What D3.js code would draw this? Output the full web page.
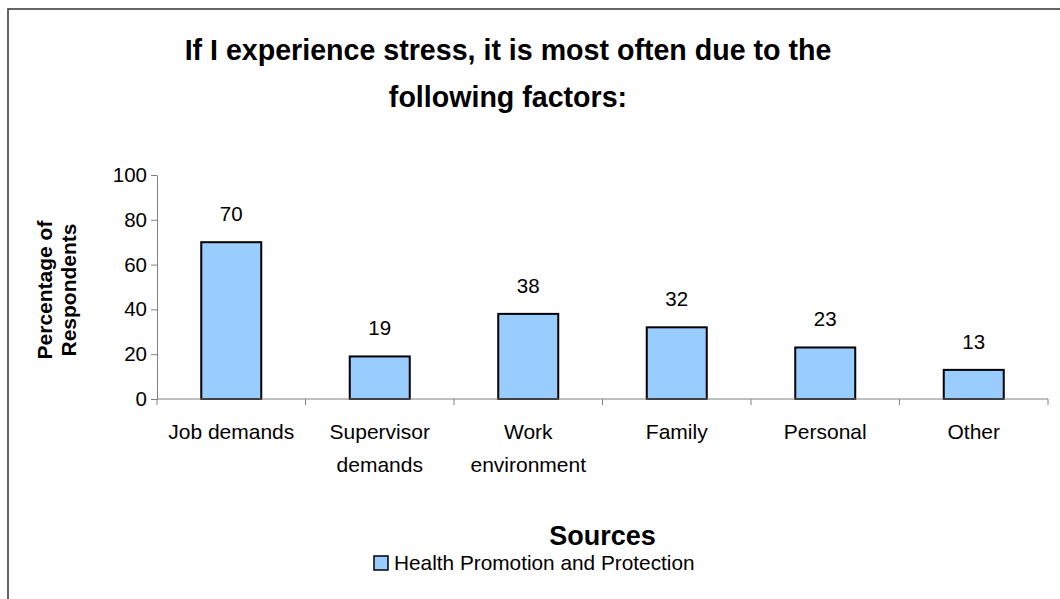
<!DOCTYPE html>
<html>
<head>
<meta charset="utf-8">
<script src="https://cdn.jsdelivr.net/npm/d3@7"></script>
<style>
  html, body { margin: 0; padding: 0; background: #fff; }
  svg { display: block; }
  text { font-family: "Liberation Sans", Arial, sans-serif; fill: #000; }
</style>
</head>
<body>
<svg id="chart" width="1060" height="599"></svg>
<script>
const categories = [["Job demands"], ["Supervisor", "demands"], ["Work", "environment"], ["Family"], ["Personal"], ["Other"]];
const values = [70, 19, 38, 32, 23, 13];
const yTicks = [0, 20, 40, 60, 80, 100];
const titleLines = ["If I experience stress, it is most often due to the", "following factors:"];
const yTitleLines = ["Percentage of", "Respondents"];
const xTitle = "Sources";
const seriesName = "Health Promotion and Protection";

const svg = d3.select("#chart");

// outer frame (extends beyond right/bottom edges)
svg.append("rect")
  .attr("x", 8).attr("y", 9).attr("width", 1100).attr("height", 700)
  .attr("fill", "none").attr("stroke", "#333").attr("stroke-width", 1.5);

const plot = { left: 157, right: 1048, top: 175, bottom: 399 };

const x = d3.scaleBand()
  .domain(categories.map((d, i) => i))
  .range([plot.left, plot.right])
  .paddingInner(0.596).paddingOuter(0.298);

const y = d3.scaleLinear().domain([0, 100]).range([plot.bottom, plot.top]);

// title
svg.append("text")
  .attr("x", 508).attr("y", 60)
  .attr("text-anchor", "middle")
  .style("font-size", "28.6px").style("font-weight", "bold")
  .selectAll("tspan").data(titleLines).join("tspan")
  .attr("x", 508).attr("dy", (d, i) => i === 0 ? 0 : 47)
  .text(d => d);

// y axis
const yAxis = d3.axisLeft(y).tickValues(yTicks).tickSize(6).tickSizeOuter(0).tickPadding(4);
const gy = svg.append("g").attr("transform", `translate(${plot.left},0)`).call(yAxis);
gy.select(".domain").attr("stroke", "#808080");
gy.selectAll(".tick line").attr("stroke", "#808080");
gy.selectAll(".tick text").style("font-size", "20.5px").style("font-family", "Liberation Sans, Arial, sans-serif").attr("fill", "#000");

// bars
svg.append("g").selectAll("rect").data(values).join("rect")
  .attr("x", (d, i) => x(i))
  .attr("y", d => y(d))
  .attr("width", x.bandwidth())
  .attr("height", d => y(0) - y(d))
  .attr("fill", "#99ccff")
  .attr("stroke", "#000").attr("stroke-width", 2);

// x axis
const xEdges = d3.range(categories.length + 1).map(i => plot.left + i * x.step());
const gx = svg.append("g");
gx.append("line")
  .attr("x1", plot.left).attr("x2", plot.right)
  .attr("y1", y(0)).attr("y2", y(0))
  .attr("stroke", "#808080").attr("stroke-width", 1);
gx.selectAll("line.tk").data(xEdges).join("line").attr("class", "tk")
  .attr("x1", d => d).attr("x2", d => d)
  .attr("y1", y(0)).attr("y2", y(0) + 6)
  .attr("stroke", "#808080");

// category labels
svg.append("g").selectAll("text").data(categories).join("text")
  .attr("text-anchor", "middle")
  .style("font-size", "21px")
  .each(function(d, i) {
    const cx = x(i) + x.bandwidth() / 2;
    d3.select(this).selectAll("tspan").data(d).join("tspan")
      .attr("x", cx)
      .attr("y", (t, j) => 439 + j * 33)
      .text(t => t);
  });

// value labels
svg.append("g").selectAll("text").data(values).join("text")
  .attr("x", (d, i) => x(i) + x.bandwidth() / 2)
  .attr("y", d => y(d) - 21)
  .attr("text-anchor", "middle")
  .style("font-size", "20.5px")
  .text(d => d);

// y title
svg.append("text")
  .attr("transform", "translate(52,290) rotate(-90)")
  .attr("text-anchor", "middle")
  .style("font-size", "21px").style("font-weight", "bold")
  .selectAll("tspan").data(yTitleLines).join("tspan")
  .attr("x", 0).attr("dy", (d, i) => i === 0 ? 0 : 24)
  .text(d => d);

// x title
svg.append("text")
  .attr("x", (plot.left + plot.right) / 2).attr("y", 545)
  .attr("text-anchor", "middle")
  .style("font-size", "27px").style("font-weight", "bold")
  .text(xTitle);

// legend
const lg = svg.append("g").attr("transform", "translate(374,556)");
lg.append("rect").attr("x", 0).attr("y", 0).attr("width", 14).attr("height", 14)
  .attr("fill", "#99ccff").attr("stroke", "#000").attr("stroke-width", 1.5);
lg.append("text").attr("x", 20).attr("y", 14)
  .style("font-size", "20.8px").text(seriesName);
</script>
</body>
</html>
